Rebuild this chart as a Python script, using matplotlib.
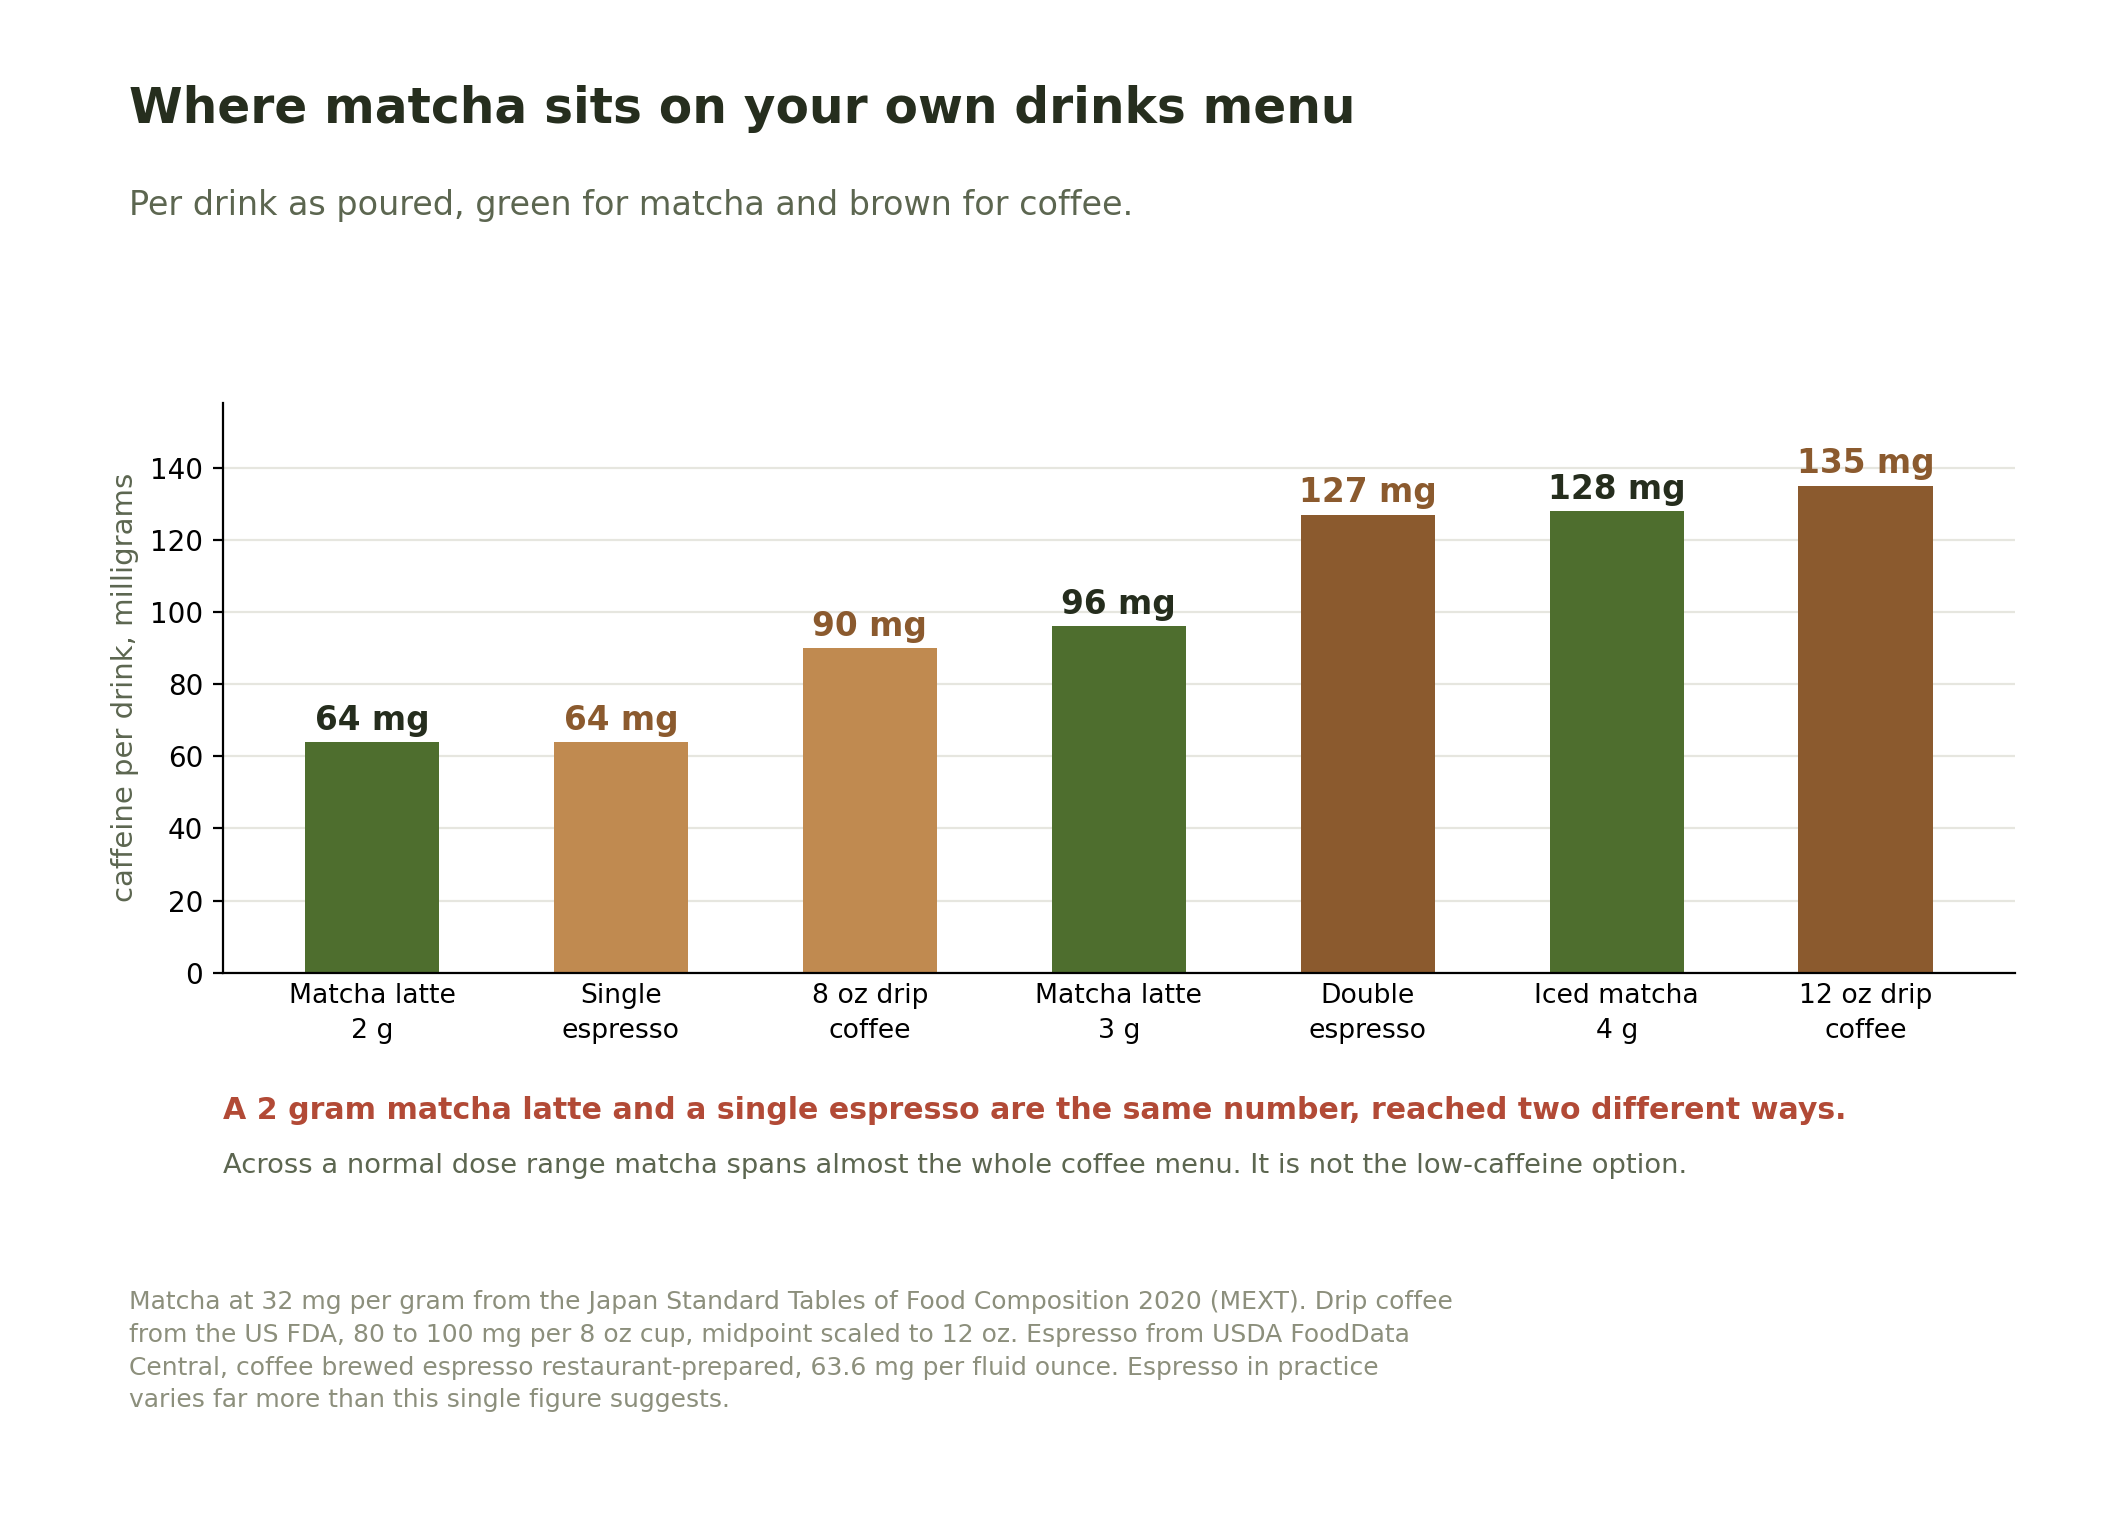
import matplotlib
matplotlib.use("Agg")
import matplotlib.pyplot as plt
import numpy as np

# drinks, in menu order (low to high caffeine)
drinks = ["Matcha latte\n2 g", "Single\nespresso", "8 oz drip\ncoffee", "Matcha latte\n3 g",
          "Double\nespresso", "Iced matcha\n4 g", "12 oz drip\ncoffee"]
caffeine_mg = [64, 64, 90, 96, 127, 128, 135]
kind = ["matcha", "light", "light", "matcha", "dark", "matcha", "dark"]

bar_colors = {"matcha": "#4e6e2e", "light": "#c08a50", "dark": "#8b5a2e"}
label_colors = {"matcha": "#252d1d", "light": "#8b5a2e", "dark": "#8b5a2e"}

fig = plt.figure(figsize=(10.6, 7.6), dpi=200)
ax = fig.add_axes([0.1050, 0.360, 0.8455, 0.375])

x = np.arange(len(drinks))
ax.bar(x, caffeine_mg, width=0.54, color=[bar_colors[k] for k in kind], zorder=2)

for i, v in enumerate(caffeine_mg):
    ax.text(i, v + 1.5, f"{v} mg", ha="center", va="bottom", fontsize=11.8,
            fontweight="bold", color=label_colors[kind[i]])

ax.set_xlim(-0.6, 6.6)
ax.set_ylim(0, 158)
ax.set_yticks(range(0, 141, 20))
ax.set_xticks(x)
ax.set_xticklabels(drinks, fontsize=9.6, linespacing=1.45)
ax.tick_params(axis="y", labelsize=10)
ax.tick_params(axis="x", length=0, pad=3.5)
ax.grid(axis="y", color="#e6e6df", linewidth=0.8, zorder=0)
ax.set_axisbelow(True)
ax.spines["top"].set_visible(False)
ax.spines["right"].set_visible(False)
ax.set_ylabel("caffeine per drink, milligrams", fontsize=10.5, color="#5c6650")

fig.text(0.0608, 0.919, "Where matcha sits on your own drinks menu", fontsize=17.5,
         fontweight="bold", color="#262e1e")
fig.text(0.0608, 0.8586, "Per drink as poured, green for matcha and brown for coffee.",
         fontsize=12, color="#5c6650")

fig.text(0.1050, 0.264, "A 2 gram matcha latte and a single espresso are the same number, reached two different ways.",
         fontsize=10.8, fontweight="bold", color="#b24a36")
fig.text(0.1050, 0.228, "Across a normal dose range matcha spans almost the whole coffee menu. It is not the low-caffeine option.",
         fontsize=9.85, color="#5c6650")

footnote = ("Matcha at 32 mg per gram from the Japan Standard Tables of Food Composition 2020 (MEXT). Drip coffee\n"
            "from the US FDA, 80 to 100 mg per 8 oz cup, midpoint scaled to 12 oz. Espresso from USDA FoodData\n"
            "Central, coffee brewed espresso restaurant-prepared, 63.6 mg per fluid ounce. Espresso in practice\n"
            "varies far more than this single figure suggests.")
fig.text(0.0608, 0.151, footnote, fontsize=9, color="#8c8f7c", va="top", linespacing=1.45)

fig.savefig("out.png", dpi=200)
